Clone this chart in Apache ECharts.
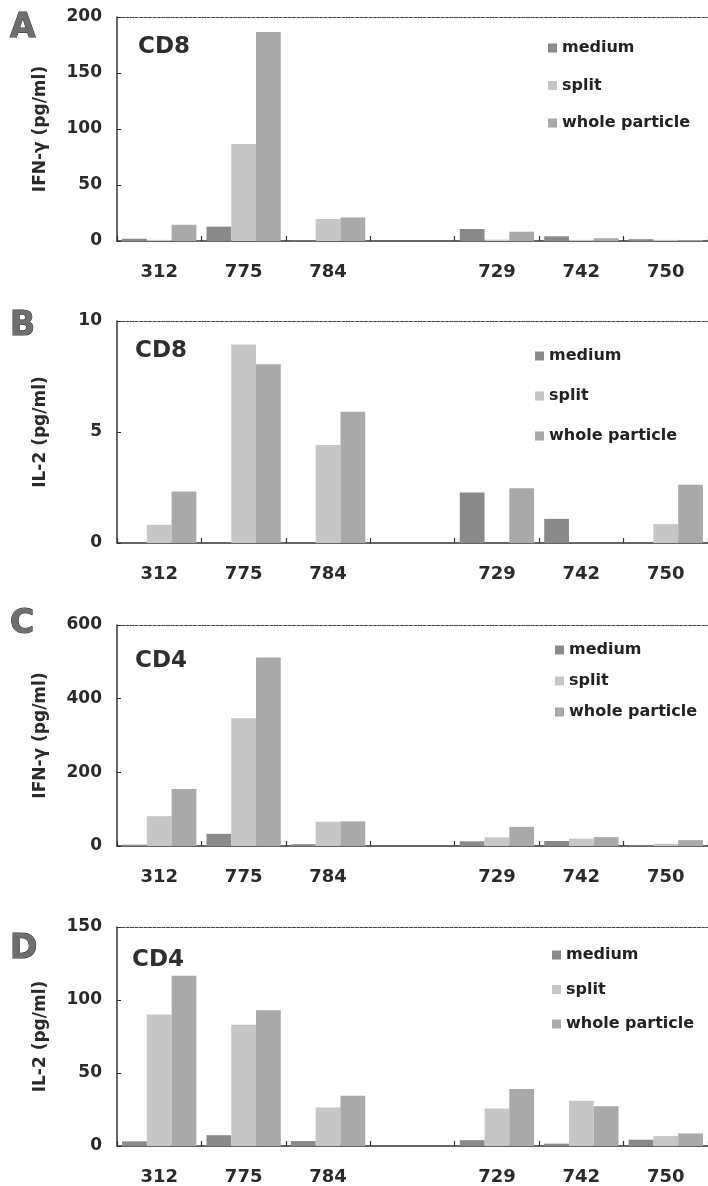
<!DOCTYPE html>
<html>
<head>
<meta charset="utf-8">
<script src="https://cdn.jsdelivr.net/npm/echarts@6/dist/echarts.min.js"></script>
<style>
html,body{margin:0;padding:0;background:#fff;}
#c{width:708px;height:1186px;}
</style>
</head>
<body>
<div id="c"></div>
<script>
// ---- data ----
const categories = ['312', '775', '784', '', '729', '742', '750'];
const seriesNames = ['medium', 'split', 'whole particle'];

// Panel A: CD8 IFN-γ (pg/ml)
const aMedium = [2, 12.8, 0.3, null, 10.7, 4.2, 1.6];
const aSplit  = [1, 86.5, 19.6, null, 1.2, 1, 1];
const aWhole  = [14.5, 186.5, 21, null, 8.3, 2.5, 0.8];
// Panel B: CD8 IL-2 (pg/ml)
const bMedium = [0, 0, 0, null, 2.28, 1.09, 0];
const bSplit  = [0.82, 8.94, 4.42, null, 0, 0, 0.85];
const bWhole  = [2.32, 8.05, 5.91, null, 2.47, 0, 2.62];
// Panel C: CD4 IFN-γ (pg/ml)
const cMedium = [3.6, 33, 5, null, 12.7, 13.6, 2];
const cSplit  = [81, 347, 66, null, 23.5, 20, 6];
const cWhole  = [155, 512, 67, null, 52, 24, 16];
// Panel D: CD4 IL-2 (pg/ml)
const dMedium = [3.2, 7.4, 3.4, null, 4, 1.6, 4.3];
const dSplit  = [90, 83, 26.4, null, 25.7, 31, 6.8];
const dWhole  = [116.6, 93, 34.5, null, 39, 27.3, 8.6];

// y-axis ranges / tick intervals
const yMax = [200, 10, 600, 150];
const yInterval = [50, 5, 200, 50];
const yNames = ['IFN-\u03b3 (pg/ml)', 'IL-2 (pg/ml)', 'IFN-\u03b3 (pg/ml)', 'IL-2 (pg/ml)'];
const panelLetters = ['A', 'B', 'C', 'D'];
const cellLabels = ['CD8', 'CD8', 'CD4', 'CD4'];

const panelData = [
  [aMedium, aSplit, aWhole],
  [bMedium, bSplit, bWhole],
  [cMedium, cSplit, cWhole],
  [dMedium, dSplit, dWhole]
];

// ---- layout ----
const FONT = 'DejaVu Sans';
const gridTops = [17, 321, 625, 927];
const gridHeights = [224, 222, 221, 221];
const legendLeft = [548, 535, 555, 552];
const legendTop = [40, 348, 642, 947];
const legendGap = [21.5, 24, 15, 18.5];
const letterTops = [12, 310, 608, 933];
const cdTops = [36, 340, 650, 949];
const cdLeft = [138, 135, 135, 132];
const colors = ['#8a8a8a', '#c6c6c6', '#a9a9a9'];

const grids = [], xAxes = [], yAxes = [], series = [], legends = [], titles = [];
for (let p = 0; p < 4; p++) {
  grids.push({left: 117, right: -10, top: gridTops[p], height: gridHeights[p], containLabel: false});
  xAxes.push({
    type: 'category', gridIndex: p, data: categories, position: 'bottom',
    axisLine: {lineStyle: {color: '#333', width: 1.5}},
    axisTick: {show: true, inside: true, length: 5, lineStyle: {color: '#333', width: 1.2}},
    axisLabel: {margin: 22, color: '#2a2a2a', fontFamily: FONT, fontWeight: 'bold', fontSize: 18, interval: 0},
    splitLine: {show: false}
  });
  xAxes.push({
    type: 'category', gridIndex: p, data: categories, position: 'top',
    axisLine: {lineStyle: {color: '#444', width: 1.2, type: [3, 1.5]}},
    axisTick: {show: false}, axisLabel: {show: false}, splitLine: {show: false}
  });
  yAxes.push({
    type: 'value', gridIndex: p, min: 0, max: yMax[p], interval: yInterval[p],
    name: yNames[p], nameLocation: 'middle', nameGap: 68, nameRotate: 90,
    nameTextStyle: {color: '#2a2a2a', fontFamily: FONT, fontWeight: 'bold', fontSize: 17},
    axisLine: {show: true, lineStyle: {color: '#333', width: 1.5}},
    axisTick: {show: true, inside: true, length: 4, lineStyle: {color: '#333'}},
    axisLabel: {margin: 15, color: '#2a2a2a', fontFamily: FONT, fontWeight: 'bold', fontSize: 17},
    splitLine: {show: false}
  });
  for (let s = 0; s < 3; s++) {
    series.push({
      type: 'bar', name: seriesNames[s], xAxisIndex: p * 2, yAxisIndex: p,
      data: panelData[p][s], barGap: '0%', barCategoryGap: '12%',
      itemStyle: {color: colors[s]}, animation: false
    });
  }
  legends.push({
    data: seriesNames, orient: 'vertical', left: legendLeft[p], top: legendTop[p], padding: 0,
    itemWidth: 9, itemHeight: 9, itemGap: legendGap[p], icon: 'rect',
    textStyle: {color: '#222', fontFamily: FONT, fontWeight: 'bold', fontSize: 16},
    selectedMode: false
  });
  titles.push({
    text: panelLetters[p], left: 10, top: letterTops[p], padding: 0,
    textStyle: {color: '#6e6e6e', fontFamily: FONT, fontWeight: 'bold', fontSize: 33,
      textBorderColor: '#333', textBorderWidth: 1}
  });
  titles.push({
    text: cellLabels[p], left: cdLeft[p], top: cdTops[p], padding: 0,
    textStyle: {color: '#2e2e2e', fontFamily: FONT, fontWeight: 'bold', fontSize: 23}
  });
}

const chart = echarts.init(document.getElementById('c'), null, {renderer: 'canvas'});
chart.setOption({
  animation: false,
  backgroundColor: '#fff',
  title: titles,
  legend: legends,
  grid: grids,
  xAxis: xAxes,
  yAxis: yAxes,
  series: series
});
</script>
</body>
</html>
